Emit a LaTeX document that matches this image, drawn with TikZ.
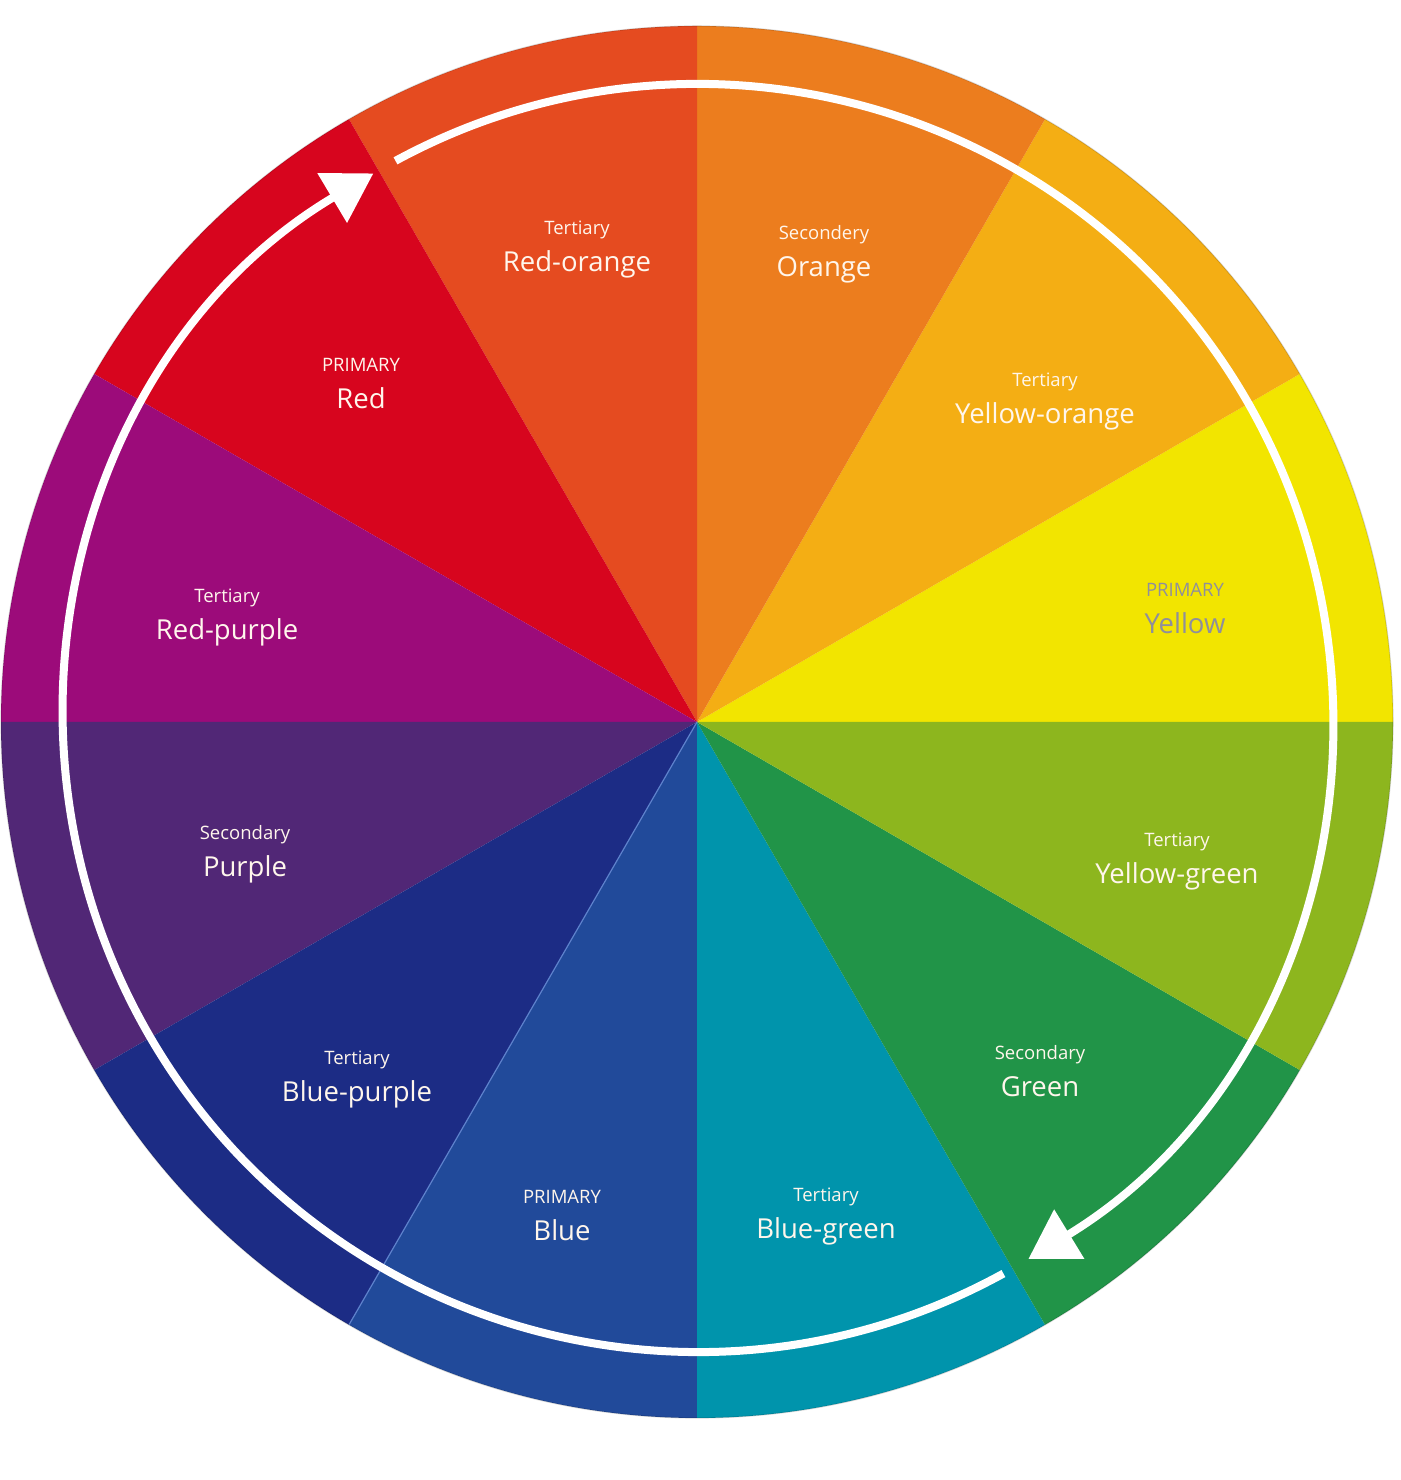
\documentclass[tikz,border=0pt]{standalone}
\usepackage{fontspec}
\setmainfont{Open Sans}
\usetikzlibrary{arrows.meta,calc}
\definecolor{cY}{HTML}{F2E500}
\definecolor{cYO}{HTML}{F4AE14}
\definecolor{cO}{HTML}{EC7D1E}
\definecolor{cRO}{HTML}{E54B20}
\definecolor{cR}{HTML}{D7051E}
\definecolor{cRP}{HTML}{9C0B7A}
\definecolor{cP}{HTML}{512776}
\definecolor{cBP}{HTML}{1C2C85}
\definecolor{cB}{HTML}{214A9A}
\definecolor{cBG}{HTML}{0094AC}
\definecolor{cG}{HTML}{219448}
\definecolor{cYG}{HTML}{8DB61E}
\definecolor{labwhite}{HTML}{FFF6EC}
\definecolor{labgray}{HTML}{8F8F9C}
\definecolor{seamblue}{HTML}{5E82CC}
\newcommand\colorlabel[6]{%
  \node[smalllab,text=#6] (#1-kind) at (#2,{1480-#3-7}) {#4};
  \node[biglab,text=#6] (#1-name) at (#2,{1480-#3-44}) {#5};
}
\newcommand\colorwedge[2]{%
  \fill[#2] (C) -- ++(#1:696) arc[start angle=#1, end angle={#1+30}, radius=696] -- cycle;
}
\begin{document}
\begin{tikzpicture}[x=1pt,y=1pt,
  smalllab/.style={anchor=base,inner sep=0pt,font=\fontsize{18.5}{20}\selectfont},
  biglab/.style={anchor=base,inner sep=0pt,font=\fontsize{27.5}{30}\selectfont},
  ringarrow/.style={draw=white,line width=8pt,-{Triangle[length=48pt,width=56pt]}}]
\useasboundingbox[fill=white] (0,0) rectangle (1400,1480);
\coordinate (C) at (697,758);
\coordinate (W) at (698,762);
% wedges
\colorwedge{0}{cY}
\colorwedge{30}{cYO}
\colorwedge{60}{cO}
\colorwedge{90}{cRO}
\colorwedge{120}{cR}
\colorwedge{150}{cRP}
\colorwedge{180}{cP}
\colorwedge{210}{cBP}
\colorwedge{240}{cB}
\colorwedge{270}{cBG}
\colorwedge{300}{cG}
\colorwedge{330}{cYG}
% light seam between blue-purple and blue
\draw[seamblue,line width=1.2pt] (C) -- ++(240:696);
% subtle rim
\draw[black,opacity=0.15,line width=1.2pt] (C) circle[radius=696];
% white circular arrows
\draw[ringarrow] ($(W)+(118.5:634)$) arc[start angle=118.5, end angle=-58.6, radius=634];
\draw[ringarrow] ($(W)+(-61.2:634)$) arc[start angle=-61.2, end angle=-239.2, radius=634];
% labels
\colorlabel{ro}{577}{228}{Tertiary}{Red-orange}{labwhite}
\colorlabel{o}{824}{233}{Secondery}{Orange}{labwhite}
\colorlabel{yo}{1045}{380}{Tertiary}{Yellow-orange}{labwhite}
\colorlabel{y}{1185}{590}{PRIMARY}{Yellow}{labgray}
\colorlabel{yg}{1177}{840}{Tertiary}{Yellow-green}{labwhite}
\colorlabel{g}{1040}{1053}{Secondary}{Green}{labwhite}
\colorlabel{bg}{826}{1195}{Tertiary}{Blue-green}{labwhite}
\colorlabel{b}{562}{1197}{PRIMARY}{Blue}{labwhite}
\colorlabel{bp}{357}{1058}{Tertiary}{Blue-purple}{labwhite}
\colorlabel{p}{245}{833}{Secondary}{Purple}{labwhite}
\colorlabel{rp}{227}{596}{Tertiary}{Red-purple}{labwhite}
\colorlabel{r}{361}{365}{PRIMARY}{Red}{labwhite}
\end{tikzpicture}
\end{document}
